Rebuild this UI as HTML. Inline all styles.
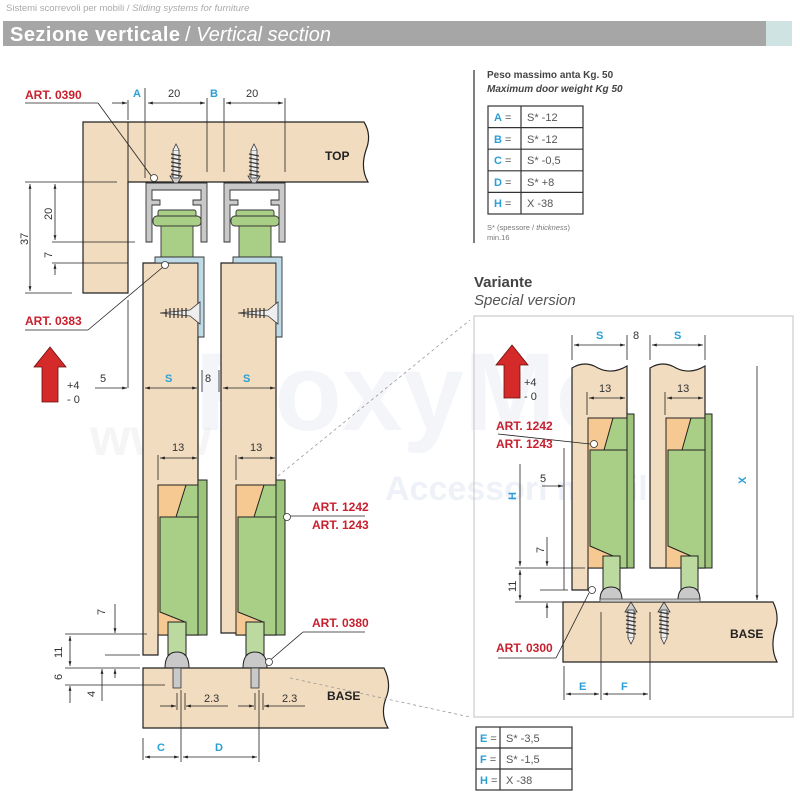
<!DOCTYPE html>
<html><head><meta charset="utf-8"><style>
html,body{margin:0;padding:0;background:#fff;}
svg{display:block;font-family:"Liberation Sans",sans-serif;}
.d{font-family:"Liberation Sans",sans-serif;font-size:11px;fill:#333;}
.b{font-weight:bold;fill:#c8202e;font-size:12px;}
.c{fill:#2a9fd6;font-weight:bold;font-size:11px;}
</style></head><body>
<svg width="800" height="800" viewBox="0 0 800 800" xmlns="http://www.w3.org/2000/svg">
<defs>
<marker id="a" viewBox="0 0 10 10" refX="10" refY="5" markerWidth="6" markerHeight="6" orient="auto-start-reverse"><path d="M0,2 L10,5 L0,8z" fill="#222"/></marker>
<g id="screwV">
<path d="M-6,-2 L0,8 L6,-2 Z" fill="#ccc" stroke="#333" stroke-width="0.8"/>
<rect x="-3" y="-28" width="6" height="28" fill="#eee" stroke="#333" stroke-width="0.8"/>
<path d="M-5,-24 L5,-22 M-5,-20 L5,-18 M-5,-16 L5,-14 M-5,-12 L5,-10 M-5,-8 L5,-6 M-5,-4 L5,-2" stroke="#333" stroke-width="1.2"/>
<path d="M-3,-28 L0,-34 L3,-28" fill="#eee" stroke="#333" stroke-width="0.8"/>
</g>
</defs>
<!-- header -->
<text x="6" y="11" font-size="9.5" fill="#aaa">Sistemi scorrevoli per mobili / <tspan font-style="italic">Sliding systems for furniture</tspan></text>
<rect x="3" y="21" width="763" height="25" fill="#a6a6a6"/>
<rect x="766" y="21" width="26" height="25" fill="#cfe3e3"/>
<text x="10" y="41" font-size="20" fill="#fff" font-weight="bold" textLength="170">Sezione verticale</text>
<text x="185" y="41" font-size="20" fill="#fff">/ <tspan font-style="italic">Vertical section</tspan></text>

<!-- watermark -->
<text x="195" y="430" font-size="110" font-weight="bold" fill="#dfe5f0" opacity="0.35">RoxyMo</text>
<text x="90" y="455" font-size="52" font-weight="bold" fill="#e8e8e8" opacity="0.4">www</text>
<text x="385" y="500" font-size="34" font-weight="bold" fill="#dfe5f0" opacity="0.5">Accessori mobilieri</text>

<!-- TOP board -->
<path d="M83,122 L364,122 Q372,135 366,150 Q360,168 368,182 L128,182 L128,293 L83,293 Z" fill="#f2dcbf" stroke="#222" stroke-width="1.2"/>
<line x1="128" y1="122" x2="128" y2="182" stroke="#222"/>
<text x="325" y="160" font-size="12" font-weight="bold" fill="#222">TOP</text>
<use href="#screwV" x="176" y="178"/>
<use href="#screwV" x="254" y="178"/>
<g fill="#c9c9c9" stroke="#333" stroke-width="0.9">
<path d="M146,183 L207,183 L207,242 L201,242 L201,205 L193,205 L193,200 L201,200 L201,190 L152,190 L152,200 L160,200 L160,205 L152,205 L152,242 L146,242 Z"/>
<path d="M224,183 L285,183 L285,242 L279,242 L279,205 L271,205 L271,200 L279,200 L279,190 L230,190 L230,200 L238,200 L238,205 L230,205 L230,242 L224,242 Z"/>
</g>
<g fill="#a9cf86" stroke="#333" stroke-width="0.9">
<rect x="158" y="210" width="38" height="8" rx="2"/>
<rect x="153" y="216" width="48" height="10" rx="4"/>
<rect x="161" y="226" width="32" height="32"/>
<rect x="236" y="210" width="38" height="8" rx="2"/>
<rect x="231" y="216" width="48" height="10" rx="4"/>
<rect x="239" y="226" width="32" height="32"/>
</g>
<g stroke="#222" stroke-width="1.2" fill="#f2dcbf">
<path d="M143,263 L198,263 L198,635 L158,635 L158,655 L143,655 Z"/>
<path d="M221,263 L276,263 L276,635 L236,635 L236,633 L221,633 Z"/>
</g>
<g fill="#bfdbe8" stroke="#333" stroke-width="0.9">
<path d="M155,257 L204,257 L204,337 L198,337 L198,263 L155,263 Z"/>
<path d="M233,257 L282,257 L282,337 L276,337 L276,263 L233,263 Z"/>
</g>
<g stroke="#333" stroke-width="0.8" fill="#eee">
<path d="M160,313 L190,310 L200,302 L200,324 L190,316 Z"/>
<path d="M238,313 L268,310 L278,302 L278,324 L268,316 Z"/>
</g>
<g stroke="#333" stroke-width="1.2"><path d="M166,309 V317 M170,308 V318 M174,308 V318 M178,308 V318 M182,308 V318 M186,308 V318"/><path d="M244,309 V317 M248,308 V318 M252,308 V318 M256,308 V318 M260,308 V318 M264,308 V318"/></g>
<g stroke="#222" stroke-width="1">
<g>
<rect x="158" y="485" width="40" height="150" fill="#f5c991"/>
<path d="M176,517 L186,485 L198,485 L198,517 Z" fill="#a9cf86"/>
<path d="M160,517 L198,517 L203,522 L203,635 L185,635 L185,622 L160,612 Z" fill="#a9cf86"/>
<rect x="168" y="622" width="18" height="35" fill="#bcd9a0"/>
<path d="M198,480 L207,480 L207,635 L198,635 Z" fill="#9cc47a"/>
<path d="M165,668 Q165,652 177,652 Q189,652 189,668 Z" fill="#c9c9c9"/>
<rect x="173" y="668" width="8" height="20" fill="#c9c9c9"/>
</g>
<g transform="translate(78,0)">
<rect x="158" y="485" width="40" height="150" fill="#f5c991"/>
<path d="M176,517 L186,485 L198,485 L198,517 Z" fill="#a9cf86"/>
<path d="M160,517 L198,517 L203,522 L203,635 L185,635 L185,622 L160,612 Z" fill="#a9cf86"/>
<rect x="168" y="622" width="18" height="35" fill="#bcd9a0"/>
<path d="M198,480 L207,480 L207,635 L198,635 Z" fill="#9cc47a"/>
<path d="M165,668 Q165,652 177,652 Q189,652 189,668 Z" fill="#c9c9c9"/>
<rect x="173" y="668" width="8" height="20" fill="#c9c9c9"/>
</g>
</g>
<path d="M143,668 L384,668 Q392,684 386,698 Q380,714 388,728 L143,728 Z" fill="#f2dcbf" stroke="#222" stroke-width="1.2"/>
<g fill="#c9c9c9" stroke="#333" stroke-width="0.8"><rect x="173" y="668" width="8" height="20"/><rect x="251" y="668" width="8" height="20"/></g>
<text x="327" y="700" font-size="12" font-weight="bold" fill="#222">BASE</text>

<g stroke="#222" stroke-width="0.8" fill="none">
<line x1="145" y1="88" x2="145" y2="178"/><line x1="207" y1="98" x2="207" y2="172"/>
<line x1="224" y1="98" x2="224" y2="172"/><line x1="285" y1="98" x2="285" y2="172"/>
<line x1="128" y1="100" x2="128" y2="120"/>
<line x1="112" y1="103" x2="127" y2="103" marker-end="url(#a)"/>
<line x1="148" y1="103" x2="205" y2="103" marker-start="url(#a)" marker-end="url(#a)"/>
<line x1="226" y1="103" x2="283" y2="103" marker-start="url(#a)" marker-end="url(#a)"/>
<line x1="25" y1="103" x2="98" y2="103"/><line x1="98" y1="103" x2="152" y2="177"/>
<line x1="25" y1="182" x2="117" y2="182"/>
<line x1="52" y1="242" x2="135" y2="242"/><line x1="52" y1="263" x2="128" y2="263"/>
<line x1="25" y1="293" x2="72" y2="293"/>
<line x1="30" y1="184" x2="30" y2="291" marker-start="url(#a)" marker-end="url(#a)"/>
<line x1="55" y1="184" x2="55" y2="240" marker-start="url(#a)" marker-end="url(#a)"/>
<line x1="55" y1="275" x2="55" y2="264" marker-end="url(#a)"/>
<line x1="25" y1="330" x2="88" y2="330"/><line x1="88" y1="330" x2="163" y2="267"/>
<line x1="128" y1="300" x2="128" y2="388"/>
<line x1="95" y1="388" x2="127" y2="388" marker-end="url(#a)"/>
<line x1="145" y1="388" x2="197" y2="388" marker-start="url(#a)" marker-end="url(#a)"/>
<line x1="223" y1="388" x2="275" y2="388" marker-start="url(#a)" marker-end="url(#a)"/>
<line x1="202" y1="370" x2="202" y2="392"/><line x1="219" y1="370" x2="219" y2="392"/>
<line x1="158" y1="455" x2="158" y2="480"/><line x1="236" y1="455" x2="236" y2="480"/>
<line x1="160" y1="458" x2="197" y2="458" marker-start="url(#a)" marker-end="url(#a)"/>
<line x1="238" y1="458" x2="275" y2="458" marker-start="url(#a)" marker-end="url(#a)"/>
<line x1="288" y1="516" x2="365" y2="516"/>
<line x1="268" y1="662" x2="303" y2="632"/><line x1="303" y1="632" x2="365" y2="632"/>
<line x1="65" y1="634" x2="147" y2="634"/><line x1="105" y1="655" x2="140" y2="655"/>
<line x1="65" y1="668" x2="140" y2="668"/><line x1="65" y1="685" x2="165" y2="685"/>
<line x1="115" y1="604" x2="115" y2="633" marker-end="url(#a)"/>
<line x1="70" y1="636" x2="70" y2="666" marker-start="url(#a)" marker-end="url(#a)"/>
<line x1="115" y1="678" x2="115" y2="669" marker-end="url(#a)"/>
<line x1="102" y1="701" x2="102" y2="669" marker-end="url(#a)"/>
<line x1="70" y1="703" x2="70" y2="686" marker-end="url(#a)"/>
<line x1="143" y1="738" x2="143" y2="760"/><line x1="181" y1="690" x2="181" y2="762"/><line x1="259" y1="690" x2="259" y2="762"/>
<line x1="145" y1="757" x2="179" y2="757" marker-start="url(#a)" marker-end="url(#a)"/>
<line x1="183" y1="757" x2="257" y2="757" marker-start="url(#a)" marker-end="url(#a)"/>
<line x1="177" y1="693" x2="177" y2="710"/><line x1="185" y1="693" x2="185" y2="710"/>
<line x1="255" y1="693" x2="255" y2="710"/><line x1="263" y1="693" x2="263" y2="710"/>
<line x1="160" y1="706" x2="176" y2="706" marker-end="url(#a)"/><line x1="228" y1="706" x2="186" y2="706" marker-end="url(#a)"/>
<line x1="238" y1="706" x2="254" y2="706" marker-end="url(#a)"/><line x1="305" y1="706" x2="264" y2="706" marker-end="url(#a)"/>
<line x1="278" y1="476" x2="470" y2="320" stroke="#999" stroke-dasharray="3,3"/>
<line x1="290" y1="678" x2="470" y2="717" stroke="#999" stroke-dasharray="3,3"/>
</g>
<g fill="#fff" stroke="#333" stroke-width="0.8"><circle cx="154" cy="178" r="3.5"/><circle cx="165" cy="265" r="3.5"/><circle cx="287" cy="517" r="3.5"/><circle cx="269" cy="662" r="3.5"/></g>
<text x="25" y="99" class="b">ART. 0390</text>
<text x="25" y="325" class="b">ART. 0383</text>
<text x="312" y="511" class="b">ART. 1242</text><text x="312" y="529" class="b">ART. 1243</text>
<text x="312" y="627" class="b">ART. 0380</text>
<text x="133" y="97" class="c">A</text><text x="210" y="97" class="c">B</text>
<text class="d" x="168" y="97">20</text><text class="d" x="246" y="97">20</text>
<text class="d" x="28" y="245" transform="rotate(-90 28 245)">37</text>
<text class="d" x="52" y="220" transform="rotate(-90 52 220)">20</text>
<text class="d" x="52" y="258" transform="rotate(-90 52 258)">7</text>
<text class="d" x="100" y="382">5</text>
<text x="165" y="382" class="c">S</text><text x="243" y="382" class="c">S</text>
<text class="d" x="205" y="382">8</text>
<text class="d" x="172" y="451">13</text><text class="d" x="250" y="451">13</text>
<text class="d" x="105" y="615" transform="rotate(-90 105 615)">7</text>
<text class="d" x="62" y="658" transform="rotate(-90 62 658)">11</text>
<text class="d" x="62" y="680" transform="rotate(-90 62 680)">6</text>
<text class="d" x="95" y="697" transform="rotate(-90 95 697)">4</text>
<text class="d" x="204" y="702">2.3</text><text class="d" x="282" y="702">2.3</text>
<text x="157" y="751" class="c">C</text><text x="215" y="751" class="c">D</text>
<path d="M50,347 L66,367 L58,367 L58,402 L42,402 L42,367 L34,367 Z" fill="#d42a2a" stroke="#6b0d0d" stroke-width="0.8"/>
<text class="d" x="67" y="389" font-size="10">+4</text><text class="d" x="67" y="403" font-size="10">- 0</text>

<line x1="474" y1="70" x2="474" y2="243" stroke="#555" stroke-width="1.5"/>
<text x="487" y="78" font-size="10" font-weight="bold" fill="#444">Peso massimo anta Kg. 50</text>
<text x="487" y="92" font-size="10" font-weight="bold" font-style="italic" fill="#444">Maximum door weight Kg 50</text>
<g stroke="#333" stroke-width="1.2" fill="none">
<rect x="488" y="106" width="95" height="108"/>
<line x1="521" y1="106" x2="521" y2="214"/>
<line x1="488" y1="127.6" x2="583" y2="127.6"/><line x1="488" y1="149.2" x2="583" y2="149.2"/><line x1="488" y1="170.8" x2="583" y2="170.8"/><line x1="488" y1="192.4" x2="583" y2="192.4"/>
</g>
<g font-size="11" fill="#555">
<text x="494" y="121"><tspan class="c">A</tspan> =</text><text x="527" y="121">S* -12</text>
<text x="494" y="143"><tspan class="c">B</tspan> =</text><text x="527" y="143">S* -12</text>
<text x="494" y="164"><tspan class="c">C</tspan> =</text><text x="527" y="164">S* -0,5</text>
<text x="494" y="186"><tspan class="c">D</tspan> =</text><text x="527" y="186">S* +8</text>
<text x="494" y="207"><tspan class="c">H</tspan> =</text><text x="527" y="207">X -38</text>
</g>
<text x="487" y="230" font-size="7.5" fill="#777">S* (spessore / <tspan font-style="italic">thickness</tspan>)</text>
<text x="487" y="240" font-size="7.5" fill="#777">min.16</text>
<text x="474" y="287" font-size="15" font-weight="bold" fill="#444">Variante</text>
<text x="474" y="305" font-size="15" font-style="italic" fill="#555">Special version</text>

<rect x="474" y="316" width="319" height="401" fill="none" stroke="#ccc" stroke-width="1.2"/>
<path d="M563,602 L773,602 Q780,616 775,630 Q770,648 777,662 L563,662 Z" fill="#f2dcbf" stroke="#222" stroke-width="1.2"/>
<text x="730" y="638" font-size="12" font-weight="bold" fill="#222">BASE</text>
<g stroke="#222" stroke-width="1.2" fill="#f2dcbf">
<path d="M572,368 Q585,360 598,368 Q612,375 627,366 L627,568 L588,568 L588,590 L572,590 Z"/>
<path d="M650,368 Q663,360 676,368 Q690,375 705,366 L705,568 L650,568 Z"/>
</g>
<g stroke="#222" stroke-width="1">
<g>
<rect x="588" y="418" width="39" height="150" fill="#f5c991"/>
<path d="M604,450 L613,418 L627,418 L627,450 Z" fill="#a9cf86"/>
<path d="M590,450 L627,450 L632,455 L632,568 L613,568 L613,556 L590,546 Z" fill="#a9cf86"/>
<rect x="603" y="556" width="17" height="36" fill="#bcd9a0"/>
<path d="M627,414 L634,414 L634,568 L627,568 Z" fill="#9cc47a"/>
<path d="M600,600 Q600,587 611,587 Q622,587 622,600 Z" fill="#c9c9c9"/>
</g>
<g transform="translate(78,0)">
<rect x="588" y="418" width="39" height="150" fill="#f5c991"/>
<path d="M604,450 L613,418 L627,418 L627,450 Z" fill="#a9cf86"/>
<path d="M590,450 L627,450 L632,455 L632,568 L613,568 L613,556 L590,546 Z" fill="#a9cf86"/>
<rect x="603" y="556" width="17" height="36" fill="#bcd9a0"/>
<path d="M627,414 L634,414 L634,568 L627,568 Z" fill="#9cc47a"/>
<path d="M600,600 Q600,587 611,587 Q622,587 622,600 Z" fill="#c9c9c9"/>
</g>
</g>
<rect x="600" y="599" width="100" height="3" fill="#c9c9c9" stroke="#333" stroke-width="0.6"/>
<use href="#screwV" transform="translate(631,610) rotate(180)"/>
<use href="#screwV" transform="translate(664,610) rotate(180)"/>
<g stroke="#222" stroke-width="0.8" fill="none">
<line x1="572" y1="335" x2="572" y2="360"/><line x1="627" y1="335" x2="627" y2="360"/>
<line x1="650" y1="335" x2="650" y2="360"/><line x1="705" y1="335" x2="705" y2="360"/>
<line x1="574" y1="345" x2="625" y2="345" marker-start="url(#a)" marker-end="url(#a)"/>
<line x1="652" y1="345" x2="703" y2="345" marker-start="url(#a)" marker-end="url(#a)"/>
<line x1="587" y1="392" x2="587" y2="415"/><line x1="665" y1="392" x2="665" y2="415"/>
<line x1="589" y1="398" x2="625" y2="398" marker-start="url(#a)" marker-end="url(#a)"/>
<line x1="667" y1="398" x2="703" y2="398" marker-start="url(#a)" marker-end="url(#a)"/>
<line x1="498" y1="434" x2="590" y2="444"/>
<line x1="564" y1="448" x2="564" y2="590"/>
<line x1="542" y1="486" x2="563" y2="486" marker-end="url(#a)"/>
<line x1="520" y1="464" x2="520" y2="566" marker-end="url(#a)"/>
<line x1="547" y1="537" x2="547" y2="566" marker-end="url(#a)"/>
<line x1="515" y1="568" x2="585" y2="568"/><line x1="540" y1="590" x2="568" y2="590"/><line x1="515" y1="602" x2="563" y2="602"/>
<line x1="520" y1="570" x2="520" y2="600" marker-start="url(#a)" marker-end="url(#a)"/>
<line x1="547" y1="618" x2="547" y2="603" marker-end="url(#a)"/>
<line x1="757" y1="366" x2="757" y2="600" marker-end="url(#a)"/>
<line x1="498" y1="658" x2="556" y2="658"/><line x1="556" y1="658" x2="589" y2="593"/>
<line x1="564" y1="666" x2="564" y2="700"/><line x1="601" y1="612" x2="601" y2="700"/><line x1="650" y1="612" x2="650" y2="700"/>
<line x1="566" y1="694" x2="599" y2="694" marker-start="url(#a)" marker-end="url(#a)"/>
<line x1="603" y1="694" x2="648" y2="694" marker-start="url(#a)" marker-end="url(#a)"/>
</g>
<g fill="#fff" stroke="#333" stroke-width="0.8"><circle cx="594" cy="444" r="3.5"/><circle cx="592" cy="590" r="3.5"/></g>
<text x="596" y="339" class="c">S</text><text x="674" y="339" class="c">S</text>
<text class="d" x="633" y="339">8</text>
<text class="d" x="599" y="392">13</text><text class="d" x="677" y="392">13</text>
<text class="d" x="540" y="482">5</text>
<text x="516" y="500" class="c" transform="rotate(-90 516 500)">H</text>
<text x="746" y="484" class="c" transform="rotate(-90 746 484)">X</text>
<text class="d" x="544" y="553" transform="rotate(-90 544 553)">7</text>
<text class="d" x="516" y="592" transform="rotate(-90 516 592)">11</text>
<text x="579" y="690" class="c">E</text><text x="621" y="690" class="c">F</text>
<text x="496" y="430" class="b">ART. 1242</text><text x="496" y="448" class="b">ART. 1243</text>
<text x="496" y="652" class="b">ART. 0300</text>
<path d="M512,345 L528,365 L520,365 L520,398 L504,398 L504,365 L496,365 Z" fill="#d42a2a" stroke="#6b0d0d" stroke-width="0.8"/>
<text class="d" x="524" y="386" font-size="10">+4</text><text class="d" x="524" y="400" font-size="10">- 0</text>

<g stroke="#333" stroke-width="1.2" fill="none">
<rect x="476" y="727" width="96" height="63"/><line x1="500" y1="727" x2="500" y2="790"/>
<line x1="476" y1="748" x2="572" y2="748"/><line x1="476" y1="769" x2="572" y2="769"/>
</g>
<g font-size="11" fill="#555">
<text x="480" y="742"><tspan class="c">E</tspan> =</text><text x="506" y="742">S* -3,5</text>
<text x="480" y="763"><tspan class="c">F</tspan> =</text><text x="506" y="763">S* -1,5</text>
<text x="480" y="784"><tspan class="c">H</tspan> =</text><text x="506" y="784">X -38</text>
</g>
</svg>
</body></html>
